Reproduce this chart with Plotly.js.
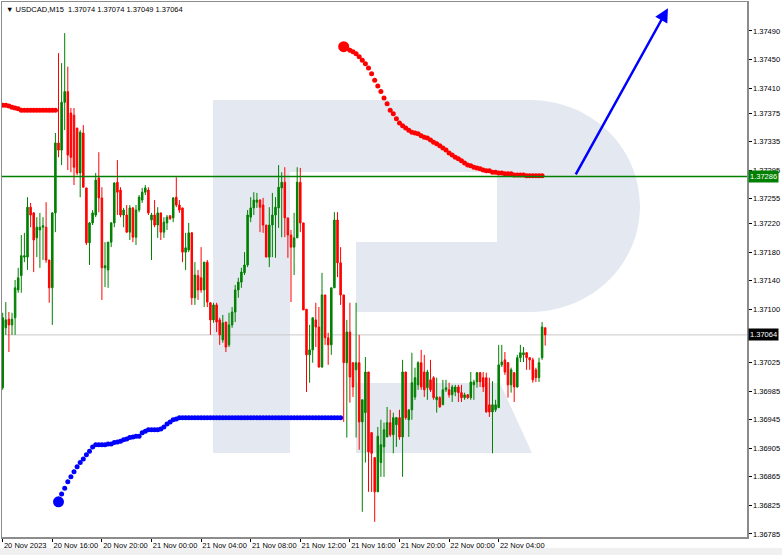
<!DOCTYPE html>
<html><head><meta charset="utf-8">
<script src="https://cdn.plot.ly/plotly-3.0.1.min.js"></script>
<style>html,body{margin:0;padding:0;background:#fff}#chart{width:782px;height:555px}</style>
</head><body><div id="chart"></div>
<script>
// ---- data (USDCAD M15, candles from 20 Nov 12:00) ----
const tickLabels = ["20 Nov 2023","20 Nov 16:00","20 Nov 20:00","21 Nov 00:00","21 Nov 04:00","21 Nov 08:00","21 Nov 12:00","21 Nov 16:00","21 Nov 20:00","22 Nov 00:00","22 Nov 04:00"];
const tickIdx = [0,16,32,48,64,80,96,112,128,144,160];

const open = [1.36990,1.37074,1.37086,1.37078,1.37088,1.37127,1.37147,1.37173,1.37173,1.37243,
1.37235,1.37200,1.37211,1.37215,1.37215,1.37169,1.37130,1.37235,1.37333,1.37323,
1.37390,1.37405,1.37375,1.37372,1.37354,1.37291,1.37347,1.37270,1.37193,1.37221,
1.37232,1.37284,1.37256,1.37158,1.37155,1.37194,1.37221,1.37278,1.37267,1.37232,
1.37232,1.37208,1.37242,1.37201,1.37239,1.37253,1.37264,1.37267,1.37225,1.37232,
1.37218,1.37235,1.37208,1.37221,1.37231,1.37228,1.37257,1.37246,1.37242,1.37180,
1.37183,1.37207,1.37116,1.37147,1.37144,1.37127,1.37166,1.37109,1.37085,1.37106,
1.37085,1.37057,1.37082,1.37050,1.37078,1.37096,1.37127,1.37138,1.37151,1.37162,
1.37229,1.37242,1.37250,1.37253,1.37246,1.37218,1.37173,1.37218,1.37232,1.37242,
1.37270,1.37278,1.37228,1.37204,1.37187,1.37200,1.37278,1.37221,1.37100,1.37036,
1.37043,1.37085,1.37075,1.37019,1.37120,1.37060,1.37050,1.37130,1.37225,1.37165,
1.37120,1.37025,1.37068,1.37025,1.37015,1.37025,1.36942,1.36955,1.37012,1.36927,
1.36892,1.36844,1.36885,1.36907,1.36921,1.36941,1.36924,1.36938,1.36948,1.36921,
1.37012,1.36945,1.36959,1.36977,1.36994,1.37025,1.37012,1.36990,1.37001,1.37004,
1.36973,1.36976,1.36966,1.36987,1.36987,1.36980,1.36984,1.36991,1.36983,1.36976,
1.36980,1.36976,1.36994,1.36998,1.37011,1.37004,1.37004,1.36966,1.36956,1.36959,
1.36962,1.37022,1.37029,1.37025,1.36994,1.37011,1.36991,1.37032,1.37036,1.37039,
1.37032,1.37029,1.37015,1.37004,1.37032,1.37074];

const high = [1.37095,1.37110,1.37096,1.37095,1.37141,1.37158,1.37204,1.37207,1.37257,1.37249,
1.37236,1.37229,1.37235,1.37229,1.37250,1.37169,1.37236,1.37347,1.37459,1.37445,
1.37487,1.37440,1.37382,1.37382,1.37354,1.37351,1.37358,1.37270,1.37222,1.37239,
1.37291,1.37320,1.37271,1.37194,1.37194,1.37222,1.37278,1.37309,1.37271,1.37242,
1.37246,1.37246,1.37243,1.37246,1.37260,1.37270,1.37274,1.37271,1.37235,1.37253,
1.37243,1.37235,1.37229,1.37232,1.37232,1.37257,1.37285,1.37253,1.37242,1.37207,
1.37221,1.37208,1.37166,1.37155,1.37187,1.37166,1.37169,1.37110,1.37109,1.37109,
1.37088,1.37092,1.37082,1.37095,1.37103,1.37134,1.37144,1.37158,1.37180,1.37239,
1.37257,1.37264,1.37263,1.37254,1.37256,1.37218,1.37243,1.37263,1.37257,1.37302,
1.37292,1.37299,1.37228,1.37211,1.37235,1.37299,1.37298,1.37221,1.37100,1.37078,
1.37088,1.37109,1.37103,1.37151,1.37120,1.37067,1.37130,1.37236,1.37236,1.37187,
1.37120,1.37085,1.37109,1.37025,1.37109,1.37064,1.36973,1.37033,1.37012,1.36927,
1.36892,1.36935,1.36945,1.36941,1.36963,1.36959,1.36955,1.36949,1.36959,1.37029,
1.37012,1.36959,1.37039,1.37018,1.37027,1.37043,1.37036,1.37015,1.37029,1.37006,
1.37004,1.36978,1.37001,1.37001,1.36997,1.36994,1.36994,1.36994,1.36994,1.36983,
1.36981,1.37012,1.37001,1.37012,1.37012,1.37012,1.37011,1.37004,1.36999,1.36973,
1.37050,1.37050,1.37040,1.37026,1.37018,1.37012,1.37036,1.37050,1.37047,1.37040,
1.37033,1.37032,1.37018,1.37032,1.37082,1.37074];

const low = [1.36987,1.37064,1.37040,1.37064,1.37064,1.37123,1.37123,1.37166,1.37155,1.37215,
1.37152,1.37173,1.37158,1.37169,1.37165,1.37109,1.37078,1.37208,1.37313,1.37302,
1.37351,1.37295,1.37292,1.37274,1.37288,1.37257,1.37271,1.37190,1.37162,1.37218,
1.37229,1.37236,1.37113,1.37131,1.37130,1.37187,1.37215,1.37232,1.37229,1.37215,
1.37207,1.37197,1.37194,1.37190,1.37236,1.37249,1.37260,1.37232,1.37169,1.37215,
1.37200,1.37197,1.37200,1.37211,1.37225,1.37222,1.37243,1.37235,1.37166,1.37155,
1.37180,1.37106,1.37106,1.37113,1.37123,1.37103,1.37103,1.37064,1.37081,1.37068,
1.37050,1.37053,1.37040,1.37047,1.37074,1.37082,1.37116,1.37130,1.37148,1.37159,
1.37222,1.37232,1.37242,1.37208,1.37207,1.37173,1.37159,1.37173,1.37172,1.37214,
1.37201,1.37201,1.37172,1.37110,1.37148,1.37200,1.37208,1.37099,1.36984,1.36997,
1.37025,1.37047,1.37018,1.37018,1.37050,1.37022,1.37036,1.37130,1.37145,1.37106,
1.36942,1.36920,1.36969,1.36977,1.36920,1.36903,1.36816,1.36885,1.36844,1.36844,
1.36802,1.36844,1.36865,1.36865,1.36921,1.36921,1.36898,1.36907,1.36917,1.36865,
1.36945,1.36921,1.36945,1.36973,1.36987,1.36987,1.36977,1.36973,1.36984,1.36973,
1.36955,1.36962,1.36966,1.36984,1.36976,1.36970,1.36978,1.36970,1.36970,1.36973,
1.36974,1.36973,1.36973,1.36990,1.36991,1.36984,1.36955,1.36949,1.36898,1.36956,
1.36962,1.37019,1.37008,1.36976,1.36983,1.36970,1.36990,1.37026,1.37026,1.37015,
1.37015,1.36997,1.36998,1.36998,1.37029,1.37049];

const close = [1.37088,1.37085,1.37078,1.37086,1.37130,1.37144,1.37175,1.37175,1.37243,1.37232,
1.37197,1.37215,1.37215,1.37217,1.37169,1.37130,1.37235,1.37333,1.37323,1.37390,
1.37405,1.37316,1.37313,1.37299,1.37291,1.37348,1.37271,1.37193,1.37221,1.37235,
1.37281,1.37256,1.37158,1.37161,1.37194,1.37221,1.37277,1.37264,1.37232,1.37239,
1.37208,1.37242,1.37201,1.37239,1.37257,1.37264,1.37270,1.37235,1.37232,1.37218,
1.37235,1.37208,1.37222,1.37229,1.37227,1.37256,1.37246,1.37239,1.37180,1.37186,
1.37207,1.37116,1.37148,1.37127,1.37127,1.37166,1.37110,1.37085,1.37106,1.37082,
1.37064,1.37081,1.37047,1.37078,1.37096,1.37127,1.37138,1.37152,1.37162,1.37232,
1.37242,1.37253,1.37253,1.37243,1.37218,1.37173,1.37218,1.37232,1.37243,1.37271,
1.37278,1.37228,1.37204,1.37187,1.37200,1.37278,1.37221,1.37099,1.37036,1.37043,
1.37088,1.37075,1.37019,1.37120,1.37060,1.37050,1.37130,1.37225,1.37165,1.37120,
1.37025,1.37068,1.37005,1.36991,1.37025,1.36942,1.36973,1.37012,1.36900,1.36898,
1.36844,1.36922,1.36910,1.36931,1.36941,1.36924,1.36948,1.36948,1.36921,1.37012,
1.36948,1.36959,1.36997,1.37004,1.37025,1.36991,1.36987,1.37012,1.36987,1.36976,
1.36977,1.36963,1.36987,1.36990,1.36980,1.36991,1.36991,1.36983,1.36976,1.36980,
1.36976,1.36998,1.36998,1.37011,1.36998,1.36991,1.36956,1.36956,1.36966,1.36966,
1.37022,1.37026,1.37012,1.36994,1.37015,1.36991,1.37032,1.37039,1.37039,1.37032,
1.37029,1.37001,1.37004,1.37025,1.37075,1.37064];

// indicator dots (trailing-stop style)
const redLeftStart = 0;
const redLeft = [1.37386,1.37386,1.37385,1.37383,1.37382,1.37381,1.37379,1.37379,1.37379,1.37379,1.37379,1.37379,1.37379,1.37379,1.37379,1.37379,1.37379,1.37379];
const blueStart = 18;
const blueDots = [1.36830,1.36841,1.36849,1.36858,1.36865,1.36872,1.36879,1.36885,1.36890,1.36896,
1.36901,1.36907,1.36910,1.36910,1.36910,1.36910,1.36911,1.36911,1.36913,1.36914,
1.36915,1.36917,1.36918,1.36920,1.36921,1.36922,1.36922,1.36927,1.36929,1.36931,
1.36931,1.36931,1.36931,1.36932,1.36935,1.36939,1.36942,1.36945,1.36946,
1.36948,1.36948,1.36948,1.36948,1.36948,1.36948,1.36948,1.36948,1.36948,1.36948,
1.36948,1.36948,1.36948,1.36948,1.36948,1.36948,1.36948,1.36948,1.36948,1.36948,
1.36948,1.36948,1.36948,1.36948,1.36948,1.36948,1.36948,1.36948,1.36948,1.36948,
1.36948,1.36948,1.36948,1.36948,1.36948,1.36948,1.36948,1.36948,1.36948,1.36948,
1.36948,1.36948,1.36948,1.36948,1.36948,1.36948,1.36948,1.36948,1.36948,1.36948,
1.36948,1.36948,1.36948];
const redRightStart = 110;
const redRight = [1.37468,1.37466,1.37463,1.37461,1.37458,1.37454,1.37449,1.37444,1.37438,1.37430,
1.37421,1.37413,1.37405,1.37396,1.37388,1.37379,1.37374,1.37367,1.37361,1.37357,
1.37354,1.37351,1.37348,1.37347,1.37346,1.37343,1.37341,1.37340,1.37337,1.37334,
1.37332,1.37329,1.37326,1.37323,1.37319,1.37316,1.37313,1.37311,1.37308,1.37305,
1.37302,1.37301,1.37299,1.37298,1.37297,1.37295,1.37294,1.37294,1.37292,1.37292,
1.37291,1.37291,1.37290,1.37290,1.37290,1.37288,1.37288,1.37288,1.37288,1.37287,
1.37287,1.37287,1.37287,1.37287,1.37287];

const levelLine = 1.37286;
const bidLine = 1.37064;
const arrowFrom = [184.6, 1.37287];
const arrowTo = [214.6, 1.37522];
const yTicks = [1.37490,1.37450,1.37410,1.37375,1.37335,1.37295,1.37255,1.37220,1.37180,1.37140,1.37100,1.37025,1.36985,1.36945,1.36905,1.36865,1.36825,1.36785];
const header = "\u25BC USDCAD,M15  1.37074 1.37074 1.37049 1.37064";

// ---- build ----
const idx = open.map((_, i) => i);
const xs = (start, arr) => arr.map((_, k) => start + k);

const traces = [
  {type:'candlestick', x: idx, open, high, low, close,
   increasing:{line:{color:'#008000', width:1}, fillcolor:'#008000'},
   decreasing:{line:{color:'#ff0000', width:1}, fillcolor:'#ff0000'},
   whiskerwidth:0, hoverinfo:'skip', showlegend:false},
  {type:'scatter', mode:'markers', x: xs(redLeftStart, redLeft), y: redLeft,
   marker:{color:'#ff0000', size:5}, showlegend:false, hoverinfo:'skip'},
  {type:'scatter', mode:'markers', x: xs(blueStart, blueDots), y: blueDots,
   marker:{color:'#0000ff', size:5}, showlegend:false, hoverinfo:'skip'},
  {type:'scatter', mode:'markers', x: [blueStart], y: [blueDots[0]],
   marker:{color:'#0000ff', size:11}, showlegend:false, hoverinfo:'skip'},
  {type:'scatter', mode:'markers', x: xs(redRightStart, redRight), y: redRight,
   marker:{color:'#ff0000', size:5}, showlegend:false, hoverinfo:'skip'},
  {type:'scatter', mode:'markers', x: [redRightStart], y: [redRight[0]],
   marker:{color:'#ff0000', size:11}, showlegend:false, hoverinfo:'skip'}
];

// plot area geometry (pixels) used only for the decorative watermark
const L = 2, T = 2, W = 745, H = 535;
const pp = (x, y) => ((x - L) / W).toFixed(4) + ',' + ((T + H - y) / H).toFixed(4);
const logoMain = 'M' + pp(213,100) + ' L' + pp(530,100) +
  ' C' + pp(591,100) + ' ' + pp(640,147) + ' ' + pp(640,206) +
  ' C' + pp(640,265) + ' ' + pp(591,312) + ' ' + pp(530,312) +
  ' L' + pp(356,312) + ' L' + pp(356,242) + ' L' + pp(497,242) + ' L' + pp(497,172) +
  ' L' + pp(290,172) + ' L' + pp(290,453) + ' L' + pp(213,453) + ' Z';
const logoLeg = 'M' + pp(356,383) + ' L' + pp(500,383) + ' L' + pp(532,453) + ' L' + pp(356,453) + ' Z';
const logoColor = 'rgb(228,233,241)';

const font = 'Liberation Sans, Arial, sans-serif';
const layout = {
  width: 782, height: 555,
  margin: {l: L, r: 35, t: T, b: 18},
  paper_bgcolor: '#ffffff', plot_bgcolor: '#ffffff',
  showlegend: false,
  font: {family: font, size: 8, color: '#000'},
  xaxis: {
    type: 'linear', range: [-0.226, 240.1], rangeslider: {visible: false},
    tickvals: tickIdx, ticktext: tickLabels, ticklabelposition: 'outside right', tickangle: 0,
    ticks: 'outside', ticklen: 3, tickcolor: '#000', tickwidth: 1, ticklabelstandoff: 0,
    tickfont: {family: font, size: 7.5, color: '#000'},
    showgrid: false, zeroline: false,
    showline: true, mirror: true, linecolor: '#8c8c8c', linewidth: 1.5, fixedrange: true
  },
  yaxis: {
    side: 'right', range: [1.367807, 1.375306],
    tickvals: yTicks, ticktext: yTicks.map(v => v.toFixed(5)),
    ticks: 'outside', ticklen: 3, tickcolor: '#000',
    tickfont: {family: font, size: 7.5, color: '#000'},
    showgrid: false, zeroline: false,
    showline: true, mirror: true, linecolor: '#8c8c8c', linewidth: 1.5, fixedrange: true
  },
  shapes: [
    {type:'path', xref:'paper', yref:'paper', path: logoMain, fillcolor: logoColor, line:{width:0}, layer:'below'},
    {type:'path', xref:'paper', yref:'paper', path: logoLeg, fillcolor: logoColor, line:{width:0}, layer:'below'},
    {type:'line', xref:'paper', yref:'y', x0:0, x1:1, y0:bidLine, y1:bidLine, line:{color:'#c8c8c8', width:1}, layer:'below'},
    {type:'line', xref:'paper', yref:'y', x0:0, x1:1, y0:levelLine, y1:levelLine, line:{color:'#008000', width:1.5}},
    {type:'rect', xref:'paper', yref:'paper', x0:-0.01, x1:1.06, y0:-0.04, y1:-0.0206, fillcolor:'#f0f0f0', line:{width:0}, layer:'below'}
  ],
  annotations: [
    {xref:'paper', yref:'paper', x:0.003, y:(T + H - 9) / H, xanchor:'left', yanchor:'middle',
     text: header, showarrow:false, font:{family: font, size: 7.5, color:'#000'}},
    {xref:'paper', yref:'y', x:1.002, y:levelLine, xanchor:'left', yanchor:'middle',
     text: levelLine.toFixed(5), showarrow:false, bgcolor:'#008000', borderpad:1,
     font:{family: font, size: 7.5, color:'#fff'}},
    {xref:'paper', yref:'y', x:1.002, y:bidLine, xanchor:'left', yanchor:'middle',
     text: bidLine.toFixed(5), showarrow:false, bgcolor:'#000000', borderpad:1,
     font:{family: font, size: 7.5, color:'#fff'}},
    {xref:'x', yref:'y', axref:'x', ayref:'y', x: arrowTo[0], y: arrowTo[1], ax: arrowFrom[0], ay: arrowFrom[1],
     text:'', showarrow:true, arrowhead:2, arrowsize:1.1, arrowwidth:2.5, arrowcolor:'#0000ff'}
  ]
};

Plotly.newPlot('chart', traces, layout, {staticPlot: true, displayModeBar: false});
</script>
</body></html>
